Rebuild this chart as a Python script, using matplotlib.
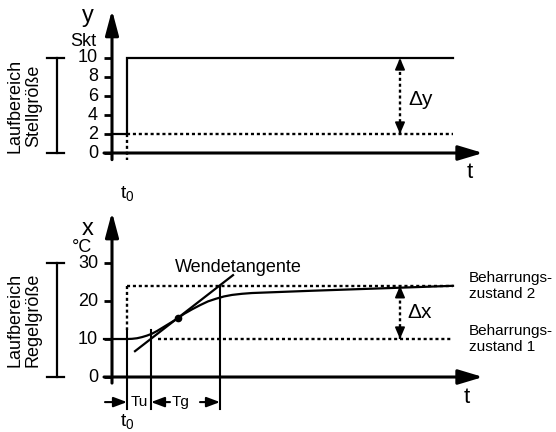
import matplotlib
matplotlib.use('Agg')
import matplotlib.pyplot as plt

plt.rcParams['font.family'] = ['Liberation Sans', 'DejaVu Sans']
plt.rcParams['mathtext.fontset'] = 'custom'
plt.rcParams['mathtext.rm'] = 'Liberation Sans'
plt.rcParams['mathtext.it'] = 'Liberation Sans'

# Stellgröße (oben)
y_ticks = [0, 2, 4, 6, 8, 10]
t0 = 1.5
t_end = 34.1
step_t = [0, 1.5, 1.5, 34.1]
step_y = [2, 2, 10, 10]
y_low, y_high = 2, 10

# Regelgröße (unten)
x_ticks = [0, 10, 20, 30]
curve_t = [-0.8, 0, 1.5, 2.0, 2.5, 3.0, 3.5, 4.0, 4.5, 5.0, 5.5, 6.0, 6.6,
           7.2, 8.0, 8.8, 9.6, 10.4, 11.2, 12.0, 13.0, 14.0, 20.0, 28.8, 34.1]
curve_x = [10, 10, 10, 10.05, 10.2, 10.5, 10.9, 11.4, 12.1, 12.9, 13.7, 14.5, 15.5,
           16.6, 17.8, 18.9, 19.9, 20.6, 21.2, 21.6, 21.9, 22.1, 22.7, 23.5, 24.0]
tangent_t = [2.3, 12.1]
tangent_x = [6.8, 26.8]
infl_t, infl_x = 6.6, 15.5
t_u, t_g = 3.9, 10.8
x_low, x_high = 10, 24
delta_t = 28.8

W, H = 556, 432
fig = plt.figure(figsize=(W / 100, H / 100), dpi=100)
ax1 = fig.add_axes([0, 232 / H, 1, 200 / H])
ax2 = fig.add_axes([0, 0, 1, 232 / H])
ax1.set_xlim(-11.2, 44.4)
ax1.set_ylim(-4.947, 16.105)
ax2.set_xlim(-11.2, 44.4)
ax2.set_ylim(-14.47, 46.58)
for ax in (ax1, ax2):
    ax.axis('off')

DOT = (0, (1.3, 1.2))


def arrow(ax, x0, y0, x1, y1, hl, hw, lw=2.0):
    ax.annotate('', xy=(x1, y1), xytext=(x0, y0),
                arrowprops=dict(arrowstyle='-|>,head_length=%g,head_width=%g' % (hl, hw),
                                lw=lw, color='black', shrinkA=0, shrinkB=0,
                                mutation_scale=10))


def axes_frame(ax, ticks, y_bottom, y_top, t_right, px_per_unit):
    # y-Achse mit Pfeil
    arrow(ax, 0, y_bottom, 0, y_top, 1.5, 0.4, lw=2.2)
    # t-Achse mit Pfeil
    arrow(ax, -0.8, 0, t_right, 0, 1.5, 0.45, lw=2.2)
    for v in ticks:
        ax.plot([-0.8, 0], [v, v], color='black', lw=2, solid_capstyle='butt')
        ax.text(-1.4, v, str(v), ha='right', va='center', fontsize=13)


def bracket(ax, lo, hi, label):
    ax.plot([-5.5, -5.5], [lo, hi], color='black', lw=1.6)
    for v in (lo, hi):
        ax.plot([-6.5, -4.8], [v, v], color='black', lw=1.6)
    ax.text(-8.8, (lo + hi) / 2, label, rotation=90, ha='center', va='center',
            fontsize=13, linespacing=1.15)


def delta_arrow(ax, t, lo, hi, unit):
    ax.plot([t, t], [lo, hi], color='black', lw=1.7, ls=DOT)
    d = 7 / unit
    arrow(ax, t, hi - d, t, hi, 0.7, 0.3, lw=1.2)
    arrow(ax, t, lo + d, t, lo, 0.7, 0.3, lw=1.2)


# ---------- oberes Diagramm ----------
axes_frame(ax1, y_ticks, -0.7, 15.05, 37.1, 9.5)
ax1.plot(step_t, step_y, color='black', lw=1.6, solid_joinstyle='miter')
ax1.plot([t0, t_end], [y_low, y_low], color='black', lw=1.7, ls=DOT)
ax1.plot([t0, t0], [y_low, -0.7], color='black', lw=1.7, ls=DOT)
delta_arrow(ax1, delta_t, y_low, y_high, 9.5)
ax1.text(29.6, 5.6, '\u0394y', ha='left', va='center', fontsize=15)
ax1.text(35.8, -2.05, 't', ha='center', va='center', fontsize=16)
ax1.text(t0, -4.3, r'$\mathrm{t_0}$', ha='center', va='center', fontsize=14)
ax1.text(-2.4, 14.4, 'y', ha='center', va='center', fontsize=17)
ax1.text(-2.9, 11.7, 'Skt', ha='center', va='center', fontsize=13)
bracket(ax1, 0, 10, 'Laufbereich\nStellgröße')

# ---------- unteres Diagramm ----------
axes_frame(ax2, x_ticks, -1.6, 43.4, 37.1, 3.8)
ax2.plot([t0, t_end], [x_high, x_high], color='black', lw=1.7, ls=DOT)
ax2.plot([4.6, t_end], [x_low, x_low], color='black', lw=1.7, ls=DOT)
ax2.plot([t0, t0], [x_high, 12.4], color='black', lw=1.7, ls=DOT)
ax2.plot(curve_t, curve_x, color='black', lw=1.6, solid_joinstyle='round')
ax2.plot(tangent_t, tangent_x, color='black', lw=1.6)
ax2.plot([infl_t], [infl_x], 'o', color='black', ms=4.5)
for t, top in ((t0, 12.4), (t_u, 12.4), (t_g, x_high)):
    ax2.plot([t, t], [top, -8.4], color='black', lw=1.5)
delta_arrow(ax2, delta_t, x_low, x_high, 3.8)
ax2.text(29.5, 17.1, '\u0394x', ha='left', va='center', fontsize=15)
ax2.text(35.5, -5.5, 't', ha='center', va='center', fontsize=16)
ax2.text(t0, -11.8, r'$\mathrm{t_0}$', ha='center', va='center', fontsize=14)
ax2.text(-2.4, 39.0, 'x', ha='center', va='center', fontsize=17)
ax2.text(-3.0, 34.2, '°C', ha='center', va='center', fontsize=13)
bracket(ax2, 0, 30, 'Laufbereich\nRegelgröße')
ax2.text(6.3, 27.6, 'Wendetangente', ha='left', va='baseline', fontsize=13)
ax2.text(35.7, x_high, 'Beharrungs-\nzustand 2', ha='left', va='center',
         fontsize=11, linespacing=1.15)
ax2.text(35.7, x_low, 'Beharrungs-\nzustand 1', ha='left', va='center',
         fontsize=11, linespacing=1.15)

# Tu / Tg Pfeile
ya = -6.6
arrow(ax2, -0.7, ya, t0, ya, 0.8, 0.3, lw=1.5)
arrow(ax2, 5.8, ya, t_u, ya, 0.8, 0.3, lw=1.5)
arrow(ax2, 8.8, ya, t_g, ya, 0.8, 0.3, lw=1.5)
ax2.text((t0 + t_u) / 2, ya, 'Tu', ha='center', va='center', fontsize=11)
ax2.text(6.9, ya, 'Tg', ha='center', va='center', fontsize=11)

fig.savefig('out.png', dpi=100)
